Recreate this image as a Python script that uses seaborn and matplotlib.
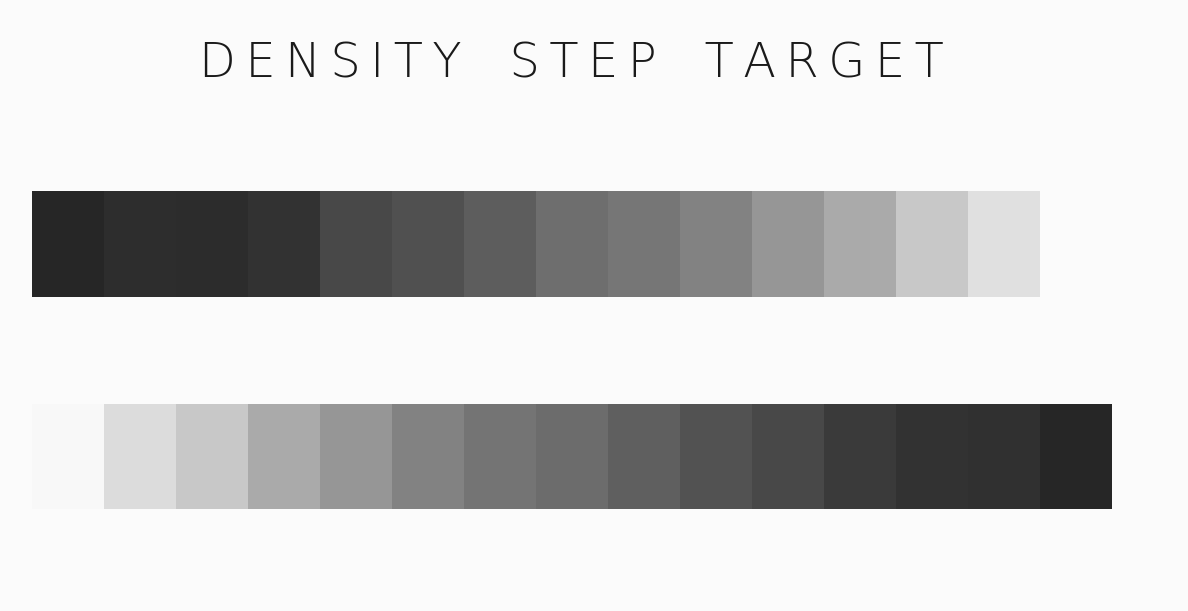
import numpy as np
import pandas as pd
import seaborn as sns
import matplotlib.pyplot as plt

# gray level of each step patch (0 = black, 255 = white)
steps = [str(i) for i in range(1, 16)]
top_row = [38, 45, 44, 50, 72, 80, 93, 110, 118, 130, 150, 170, 200, 224, 251]
bottom_row = [248, 220, 200, 170, 150, 130, 116, 108, 95, 82, 72, 58, 50, 48, 38]

title = "DENSITY STEP TARGET"

bg = '#fbfbfb'
fig = plt.figure(figsize=(11.88, 6.11), dpi=100, facecolor=bg)

ax1 = fig.add_axes([0.0269, 0.5139, 0.9091, 0.1735])
ax2 = fig.add_axes([0.0269, 0.1669, 0.9091, 0.1718])

df1 = pd.DataFrame([top_row], columns=steps)
df2 = pd.DataFrame([bottom_row], columns=steps)

for ax, df in [(ax1, df1), (ax2, df2)]:
    sns.heatmap(df, cmap='gray', vmin=0, vmax=255, cbar=False, ax=ax,
                xticklabels=False, yticklabels=False)
    ax.set_facecolor(bg)

# spread the letters like the plotter lettering
spaced = "\u2009".join(title).replace("\u2009 \u2009", "\u2003")
fig.text(0.481, 0.896, spaced, ha='center', va='center', fontsize=34.5,
         fontweight='light', color='#1a1a1a',
         family=['DejaVu Sans'])

plt.savefig("out.png", dpi=100, facecolor=bg)
